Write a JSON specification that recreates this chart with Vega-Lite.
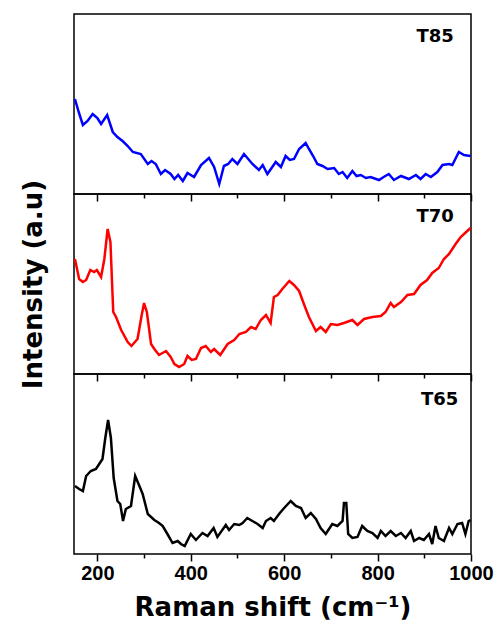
{
  "$schema": "https://vega.github.io/schema/vega-lite/v6.json",
  "background": "white",
  "padding": {"left": 19, "top": 13, "right": 29, "bottom": 5},
  "spacing": 0,
  "bounds": "flush",
  "config": {
    "view": {"stroke": "black", "strokeWidth": 1.5},
    "font": "DejaVu Sans"
  },
  "datasets": {
    "t85": [
      {"shift":152,"intensity":95},{"shift":160,"intensity":82},{"shift":169,"intensity":69},{"shift":179,"intensity":73},{"shift":190,"intensity":80},{"shift":200,"intensity":76},{"shift":208,"intensity":70},{"shift":221,"intensity":79},{"shift":233,"intensity":62},{"shift":243,"intensity":57},{"shift":254,"intensity":53},{"shift":265,"intensity":48},{"shift":276,"intensity":42},{"shift":293,"intensity":40},{"shift":308,"intensity":30},{"shift":316,"intensity":33},{"shift":325,"intensity":30},{"shift":336,"intensity":20},{"shift":345,"intensity":24},{"shift":357,"intensity":20},{"shift":365,"intensity":15},{"shift":373,"intensity":19},{"shift":383,"intensity":13},{"shift":393,"intensity":21},{"shift":407,"intensity":17},{"shift":422,"intensity":29},{"shift":439,"intensity":36},{"shift":450,"intensity":27},{"shift":461,"intensity":10},{"shift":471,"intensity":28},{"shift":480,"intensity":30},{"shift":489,"intensity":35},{"shift":500,"intensity":30},{"shift":514,"intensity":40},{"shift":532,"intensity":30},{"shift":546,"intensity":24},{"shift":554,"intensity":29},{"shift":564,"intensity":20},{"shift":582,"intensity":32},{"shift":593,"intensity":27},{"shift":603,"intensity":38},{"shift":612,"intensity":34},{"shift":621,"intensity":35},{"shift":632,"intensity":45},{"shift":646,"intensity":51},{"shift":653,"intensity":45},{"shift":662,"intensity":38},{"shift":671,"intensity":30},{"shift":682,"intensity":28},{"shift":693,"intensity":25},{"shift":707,"intensity":26},{"shift":717,"intensity":20},{"shift":725,"intensity":22},{"shift":735,"intensity":16},{"shift":746,"intensity":23},{"shift":755,"intensity":18},{"shift":764,"intensity":19},{"shift":775,"intensity":16},{"shift":785,"intensity":17},{"shift":803,"intensity":14},{"shift":813,"intensity":17},{"shift":824,"intensity":20},{"shift":835,"intensity":14},{"shift":850,"intensity":18},{"shift":867,"intensity":15},{"shift":882,"intensity":19},{"shift":892,"intensity":15},{"shift":903,"intensity":20},{"shift":914,"intensity":17},{"shift":928,"intensity":22},{"shift":939,"intensity":29},{"shift":953,"intensity":30},{"shift":960,"intensity":29},{"shift":974,"intensity":42},{"shift":985,"intensity":39},{"shift":999,"intensity":38}
    ],
    "t70": [
      {"shift":152,"intensity":115},{"shift":161,"intensity":95},{"shift":169,"intensity":92},{"shift":176,"intensity":94},{"shift":185,"intensity":104},{"shift":193,"intensity":102},{"shift":199,"intensity":104},{"shift":208,"intensity":97},{"shift":215,"intensity":115},{"shift":222,"intensity":145},{"shift":228,"intensity":132},{"shift":234,"intensity":62},{"shift":240,"intensity":57},{"shift":251,"intensity":44},{"shift":265,"intensity":32},{"shift":273,"intensity":28},{"shift":286,"intensity":35},{"shift":295,"intensity":59},{"shift":300,"intensity":71},{"shift":306,"intensity":62},{"shift":315,"intensity":30},{"shift":322,"intensity":25},{"shift":332,"intensity":19},{"shift":347,"intensity":23},{"shift":357,"intensity":17},{"shift":365,"intensity":10},{"shift":375,"intensity":7},{"shift":386,"intensity":10},{"shift":393,"intensity":18},{"shift":402,"intensity":14},{"shift":411,"intensity":15},{"shift":422,"intensity":26},{"shift":432,"intensity":28},{"shift":443,"intensity":22},{"shift":450,"intensity":25},{"shift":463,"intensity":19},{"shift":479,"intensity":30},{"shift":493,"intensity":34},{"shift":504,"intensity":40},{"shift":518,"intensity":42},{"shift":529,"intensity":47},{"shift":539,"intensity":45},{"shift":550,"intensity":54},{"shift":561,"intensity":59},{"shift":571,"intensity":51},{"shift":578,"intensity":77},{"shift":586,"intensity":79},{"shift":596,"intensity":85},{"shift":611,"intensity":93},{"shift":621,"intensity":89},{"shift":632,"intensity":83},{"shift":643,"intensity":69},{"shift":653,"intensity":57},{"shift":668,"intensity":43},{"shift":678,"intensity":47},{"shift":689,"intensity":42},{"shift":700,"intensity":50},{"shift":714,"intensity":49},{"shift":728,"intensity":51},{"shift":746,"intensity":54},{"shift":757,"intensity":49},{"shift":771,"intensity":55},{"shift":789,"intensity":57},{"shift":807,"intensity":58},{"shift":817,"intensity":62},{"shift":828,"intensity":71},{"shift":835,"intensity":67},{"shift":850,"intensity":72},{"shift":864,"intensity":79},{"shift":878,"intensity":80},{"shift":892,"intensity":89},{"shift":906,"intensity":94},{"shift":917,"intensity":101},{"shift":931,"intensity":106},{"shift":942,"intensity":115},{"shift":953,"intensity":120},{"shift":967,"intensity":130},{"shift":978,"intensity":137},{"shift":985,"intensity":140},{"shift":999,"intensity":146}
    ],
    "t65": [
      {"shift":152,"intensity":68},{"shift":161,"intensity":65},{"shift":169,"intensity":63},{"shift":176,"intensity":78},{"shift":186,"intensity":83},{"shift":197,"intensity":85},{"shift":204,"intensity":90},{"shift":211,"intensity":95},{"shift":217,"intensity":116},{"shift":223,"intensity":134},{"shift":229,"intensity":116},{"shift":235,"intensity":76},{"shift":243,"intensity":53},{"shift":249,"intensity":50},{"shift":255,"intensity":33},{"shift":261,"intensity":45},{"shift":272,"intensity":48},{"shift":281,"intensity":78},{"shift":290,"intensity":68},{"shift":297,"intensity":60},{"shift":308,"intensity":40},{"shift":322,"intensity":34},{"shift":332,"intensity":31},{"shift":340,"intensity":28},{"shift":350,"intensity":20},{"shift":361,"intensity":11},{"shift":372,"intensity":13},{"shift":379,"intensity":10},{"shift":387,"intensity":8},{"shift":400,"intensity":20},{"shift":411,"intensity":14},{"shift":425,"intensity":21},{"shift":436,"intensity":18},{"shift":449,"intensity":26},{"shift":457,"intensity":17},{"shift":475,"intensity":29},{"shift":482,"intensity":24},{"shift":493,"intensity":30},{"shift":504,"intensity":29},{"shift":511,"intensity":31},{"shift":521,"intensity":36},{"shift":532,"intensity":33},{"shift":543,"intensity":30},{"shift":554,"intensity":26},{"shift":561,"intensity":33},{"shift":571,"intensity":36},{"shift":578,"intensity":33},{"shift":589,"intensity":40},{"shift":600,"intensity":46},{"shift":614,"intensity":53},{"shift":625,"intensity":48},{"shift":636,"intensity":46},{"shift":646,"intensity":36},{"shift":657,"intensity":41},{"shift":668,"intensity":35},{"shift":678,"intensity":26},{"shift":689,"intensity":20},{"shift":696,"intensity":25},{"shift":703,"intensity":30},{"shift":714,"intensity":28},{"shift":725,"intensity":33},{"shift":728,"intensity":51},{"shift":733,"intensity":51},{"shift":737,"intensity":20},{"shift":746,"intensity":16},{"shift":757,"intensity":17},{"shift":767,"intensity":28},{"shift":778,"intensity":23},{"shift":789,"intensity":21},{"shift":800,"intensity":16},{"shift":807,"intensity":23},{"shift":817,"intensity":18},{"shift":828,"intensity":23},{"shift":839,"intensity":18},{"shift":850,"intensity":21},{"shift":860,"intensity":16},{"shift":871,"intensity":23},{"shift":878,"intensity":13},{"shift":889,"intensity":16},{"shift":899,"intensity":14},{"shift":910,"intensity":20},{"shift":917,"intensity":10},{"shift":924,"intensity":28},{"shift":931,"intensity":16},{"shift":942,"intensity":13},{"shift":953,"intensity":26},{"shift":960,"intensity":20},{"shift":971,"intensity":30},{"shift":981,"intensity":31},{"shift":988,"intensity":20},{"shift":995,"intensity":33},{"shift":999,"intensity":34}
    ]
  },
  "vconcat": [
    {
      "width": 397, "height": 180,
      "layer": [
        {
          "data": {"name": "t85"},
          "mark": {"type": "line", "color": "#0000ff", "strokeWidth": 2.5},
          "encoding": {
            "x": {"field": "shift", "type": "quantitative", "scale": {"domain": [150, 1000], "nice": false, "zero": false},
              "axis": {"values": [200,300,400,500,600,700,800,900,1000], "labels": false, "title": null, "grid": false, "domain": false, "tickColor": "black", "tickWidth": 1.5,
                "tickSize": {"condition": {"test": "datum.value % 200 === 0", "value": 7}, "value": 4}}},
            "y": {"field": "intensity", "type": "quantitative", "scale": {"domain": [0, 180]}, "axis": null}
          }
        },
        {
          "data": {"values": [{"label": "T85"}]},
          "mark": {"type": "text", "font": "DejaVu Sans", "fontWeight": "bold", "fontSize": 18, "align": "right", "baseline": "middle", "color": "black"},
          "encoding": {
            "x": {"datum": 963, "type": "quantitative"},
            "y": {"datum": 157, "type": "quantitative"},
            "text": {"field": "label"}
          }
        }
      ]
    },
    {
      "width": 397, "height": 180,
      "layer": [
        {
          "data": {"name": "t70"},
          "mark": {"type": "line", "color": "#ff0000", "strokeWidth": 2.5},
          "encoding": {
            "x": {"field": "shift", "type": "quantitative", "scale": {"domain": [150, 1000], "nice": false, "zero": false},
              "axis": {"values": [200,300,400,500,600,700,800,900,1000], "labels": false, "title": null, "grid": false, "domain": false, "tickColor": "black", "tickWidth": 1.5,
                "tickSize": {"condition": {"test": "datum.value % 200 === 0", "value": 7}, "value": 4}}},
            "y": {"field": "intensity", "type": "quantitative", "scale": {"domain": [0, 180]},
              "axis": {"title": "Intensity (a.u)", "labels": false, "ticks": false, "domain": false, "grid": false, "titleFont": "DejaVu Sans", "titleFontSize": 26, "titleFontWeight": "bold", "titleColor": "black", "titlePadding": 28}}
          }
        },
        {
          "data": {"values": [{"label": "T70"}]},
          "mark": {"type": "text", "font": "DejaVu Sans", "fontWeight": "bold", "fontSize": 18, "align": "right", "baseline": "middle", "color": "black"},
          "encoding": {
            "x": {"datum": 963, "type": "quantitative"},
            "y": {"datum": 157, "type": "quantitative"},
            "text": {"field": "label"}
          }
        }
      ]
    },
    {
      "width": 397, "height": 180,
      "layer": [
        {
          "data": {"name": "t65"},
          "mark": {"type": "line", "color": "#000000", "strokeWidth": 2.5},
          "encoding": {
            "x": {"field": "shift", "type": "quantitative", "scale": {"domain": [150, 1000], "nice": false, "zero": false},
              "axis": {"values": [200,300,400,500,600,700,800,900,1000], "format": "d", "labelExpr": "datum.value % 200 === 0 ? datum.label : ''", "labelFlush": false, "labelOverlap": false, "grid": false, "domain": false, "tickColor": "black", "tickWidth": 1.5,
                "tickSize": {"condition": {"test": "datum.value % 200 === 0", "value": 7}, "value": 4},
                "labelFont": "Liberation Sans", "labelFontWeight": "bold", "labelFontSize": 20, "labelColor": "black", "labelPadding": 2,
                "title": "Raman shift (cm⁻¹)", "titleFont": "DejaVu Sans", "titleFontSize": 26, "titleFontWeight": "bold", "titleColor": "black", "titlePadding": 11}},
            "y": {"field": "intensity", "type": "quantitative", "scale": {"domain": [0, 180]}, "axis": null}
          }
        },
        {
          "data": {"values": [{"label": "T65"}]},
          "mark": {"type": "text", "font": "DejaVu Sans", "fontWeight": "bold", "fontSize": 18, "align": "right", "baseline": "middle", "color": "black"},
          "encoding": {
            "x": {"datum": 973, "type": "quantitative"},
            "y": {"datum": 154, "type": "quantitative"},
            "text": {"field": "label"}
          }
        }
      ]
    }
  ]
}
